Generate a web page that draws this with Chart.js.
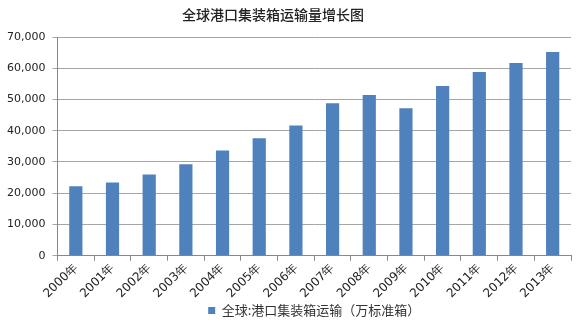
<!DOCTYPE html>
<html>
<head>
<meta charset="utf-8">
<script src="https://cdn.jsdelivr.net/npm/chart.js@4/dist/chart.umd.min.js"></script>
<style>
  html, body { margin: 0; padding: 0; background: #fff; }
  #wrap { position: relative; width: 578px; height: 328px; }
  #title {
    position: absolute; left: 0; top: 4px; width: 546px;
    text-align: center; font: 500 14px "Noto Sans CJK SC", sans-serif; color: #222;
  }
</style>
</head>
<body>
<div id="wrap">
  <div id="title">全球港口集装箱运输量增长图</div>
  <canvas id="chart" width="578" height="328"></canvas>
</div>
<script>
const years = ['2000年', '2001年', '2002年', '2003年', '2004年', '2005年', '2006年',
  '2007年', '2008年', '2009年', '2010年', '2011年', '2012年', '2013年'];
const seriesName = '全球:港口集装箱运输（万标准箱）';
// 万标准箱
const throughput = [22200, 23400, 26000, 29300, 33700, 37600, 41700,
  48800, 51400, 47200, 54300, 58800, 61700, 65200];
const yMax = 70000;
const yStep = 10000;

const el = document.getElementById('chart');
new Chart(el, {
  type: 'bar',
  data: {
    labels: years,
    datasets: [{
      label: seriesName,
      data: throughput,
      backgroundColor: '#4F81BD',
      barPercentage: 0.36,
      categoryPercentage: 1
    }]
  },
  options: {
    responsive: false,
    animation: false,
    layout: { padding: { top: 37, right: 7, left: 0, bottom: 1 } },
    plugins: {
      title: { display: false },
      tooltip: { enabled: false },
      legend: {
        position: 'bottom',
        fullSize: false,
        labels: {
          boxWidth: 7, boxHeight: 7, padding: 3,
          color: '#333',
          font: { family: '"Noto Sans CJK SC", sans-serif', size: 13 }
        }
      }
    },
    scales: {
      x: {
        offset: true,
        grid: { drawOnChartArea: false, drawTicks: true, tickLength: 5, color: '#888', offset: true },
        border: { color: '#888' },
        ticks: {
          autoSkip: false, minRotation: 45, maxRotation: 45, padding: 0,
          color: '#222',
          font: { family: '"DejaVu Sans", sans-serif', size: 12 }
        }
      },
      y: {
        min: 0, max: yMax,
        grid: { color: '#a6a6a6', tickLength: 5 },
        border: { color: '#888' },
        ticks: {
          stepSize: yStep, padding: 7,
          color: '#222',
          font: { family: '"DejaVu Sans", sans-serif', size: 11 },
          callback: v => v.toLocaleString('en-US')
        }
      }
    }
  }
});
</script>
</body>
</html>
